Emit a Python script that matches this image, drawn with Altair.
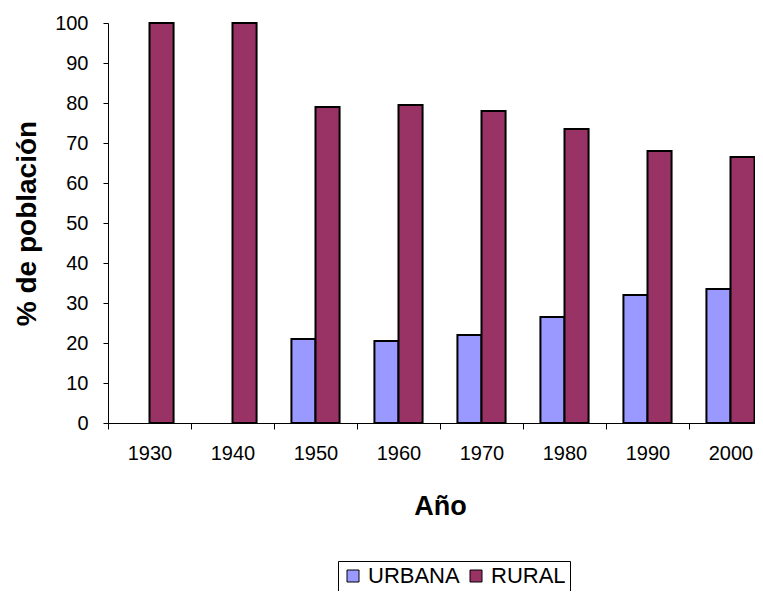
import altair as alt
import pandas as pd

years = ["1930", "1940", "1950", "1960", "1970", "1980", "1990", "2000"]
urbana = [None, None, 21, 20.5, 22, 26.5, 32, 33.5]
rural = [100, 100, 79, 79.5, 78, 73.5, 68, 66.5]
series = ["URBANA", "RURAL"]
colors = ["#9999FF", "#993366"]
y_ticks = list(range(0, 101, 10))

rows = []
for yr, u, r in zip(years, urbana, rural):
    if u is not None:
        rows.append({"Año": yr, "serie": "URBANA", "valor": u})
    rows.append({"Año": yr, "serie": "RURAL", "valor": r})
df = pd.DataFrame(rows)

FONT = "Liberation Sans"

chart = alt.Chart(df).mark_bar(stroke="black", strokeWidth=2).encode(
    x=alt.X(
        "Año:N",
        sort=years,
        scale=alt.Scale(range=[0, 664], paddingInner=0.42, paddingOuter=0.21),
        axis=alt.Axis(
            title="Año", labelAngle=0, tickSize=6, tickOffset=-41.5,
            labelOffset=41.5, labelPadding=14, titlePadding=30,
        ),
    ),
    xOffset=alt.XOffset("serie:N", sort=series,
                        scale=alt.Scale(domain=series, paddingInner=0, paddingOuter=0)),
    y=alt.Y(
        "valor:Q",
        scale=alt.Scale(domain=[0, 100]),
        axis=alt.Axis(title="% de población", values=y_ticks, tickSize=5,
                      labelPadding=15, titlePadding=13, titleFontSize=28),
    ),
    color=alt.Color(
        "serie:N",
        sort=series,
        scale=alt.Scale(domain=series, range=colors),
        legend=alt.Legend(
            title=None, orient="none", legendX=230, legendY=538,
            direction="horizontal", symbolType="square", symbolSize=144,
            symbolStrokeColor="black", symbolStrokeWidth=1, labelFontSize=22,
            labelFont=FONT, labelColor="black", padding=4, strokeColor="black",
            fillColor="white", columnPadding=5, labelOffset=4,
        ),
    ),
).properties(
    width=647, height=400,
    autosize=alt.AutoSizeParams(type="none"),
    padding={"left": 100, "top": 15, "right": 0, "bottom": 168},
).configure_view(stroke=None).configure_axis(
    grid=False, domainColor="black", tickColor="black", labelColor="black",
    titleColor="black", labelFont=FONT, titleFont=FONT, labelFontSize=20,
    titleFontSize=27, titleFontWeight="bold",
)

chart.save("out.html", embed_options={"renderer": "svg", "actions": False})
